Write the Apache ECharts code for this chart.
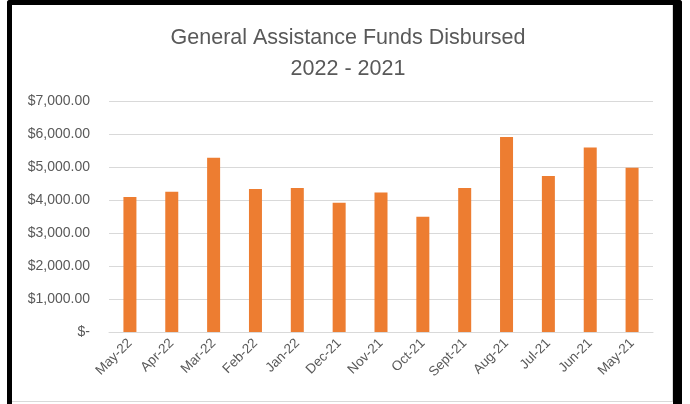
<!DOCTYPE html>
<html>
<head>
<meta charset="utf-8">
<script src="https://cdn.jsdelivr.net/npm/echarts@6/dist/echarts.min.js"></script>
<style>
  html, body { margin: 0; padding: 0; background: #fff; width: 690px; height: 404px; overflow: hidden; }
  #frame { position: absolute; left: 7px; top: 0; width: 675px; height: 420px; box-sizing: border-box;
           border-left: 5px solid #000; border-top: 5px solid #000; border-right: 9px solid #000;
           border-top-left-radius: 3px; border-top-right-radius: 3px; }
  #inner { position: absolute; left: 12px; top: 5px; width: 661px; height: 397px; box-sizing: border-box;
           border-right: 1px solid #d9d9d9; border-bottom: 1px solid #d9d9d9; }
  #chart { position: absolute; left: 0; top: 0; width: 690px; height: 404px; }
</style>
</head>
<body>
<div id="frame"></div>
<div id="inner"></div>
<div id="chart"></div>
<script>
const categories = ['May-22','Apr-22','Mar-22','Feb-22','Jan-22','Dec-21','Nov-21','Oct-21','Sept-21','Aug-21','Jul-21','Jun-21','May-21'];
const funds = [4090, 4250, 5280, 4330, 4360, 3920, 4230, 3490, 4360, 5910, 4730, 5590, 4980];
const titleLines = ['General Assistance Funds Disbursed', '2022 - 2021'];

const chart = echarts.init(document.getElementById('chart'), null, { renderer: 'canvas' });
function money(v) {
  if (v === 0) return '$-';
  return '$' + v.toLocaleString('en-US', { minimumFractionDigits: 2, maximumFractionDigits: 2 });
}
chart.setOption({
  animation: false,
  title: {
    text: titleLines.join('\n'),
    left: 343, top: 18, textAlign: 'center',
    textStyle: { fontFamily: 'Liberation Sans', fontSize: 21.5, fontWeight: 'normal', color: '#595959', lineHeight: 31 }
  },
  grid: { left: 109, right: 37, top: 101, bottom: 72 },
  xAxis: {
    type: 'category', data: categories,
    axisTick: { show: false },
    axisLine: { lineStyle: { color: '#d9d9d9', width: 1 } },
    axisLabel: { rotate: 45, color: '#595959', fontFamily: 'Liberation Sans', fontSize: 13.5, margin: 9, interval: 0 }
  },
  yAxis: {
    type: 'value', min: 0, max: 7000, interval: 1000,
    axisLine: { show: false }, axisTick: { show: false },
    splitLine: { lineStyle: { color: '#d9d9d9', width: 1 } },
    axisLabel: { formatter: money, color: '#595959', fontFamily: 'Liberation Sans', fontSize: 14, margin: 19 }
  },
  series: [{
    type: 'bar', data: funds, barWidth: 13,
    itemStyle: { color: '#ED7D31' }
  }]
});
</script>
</body>
</html>
